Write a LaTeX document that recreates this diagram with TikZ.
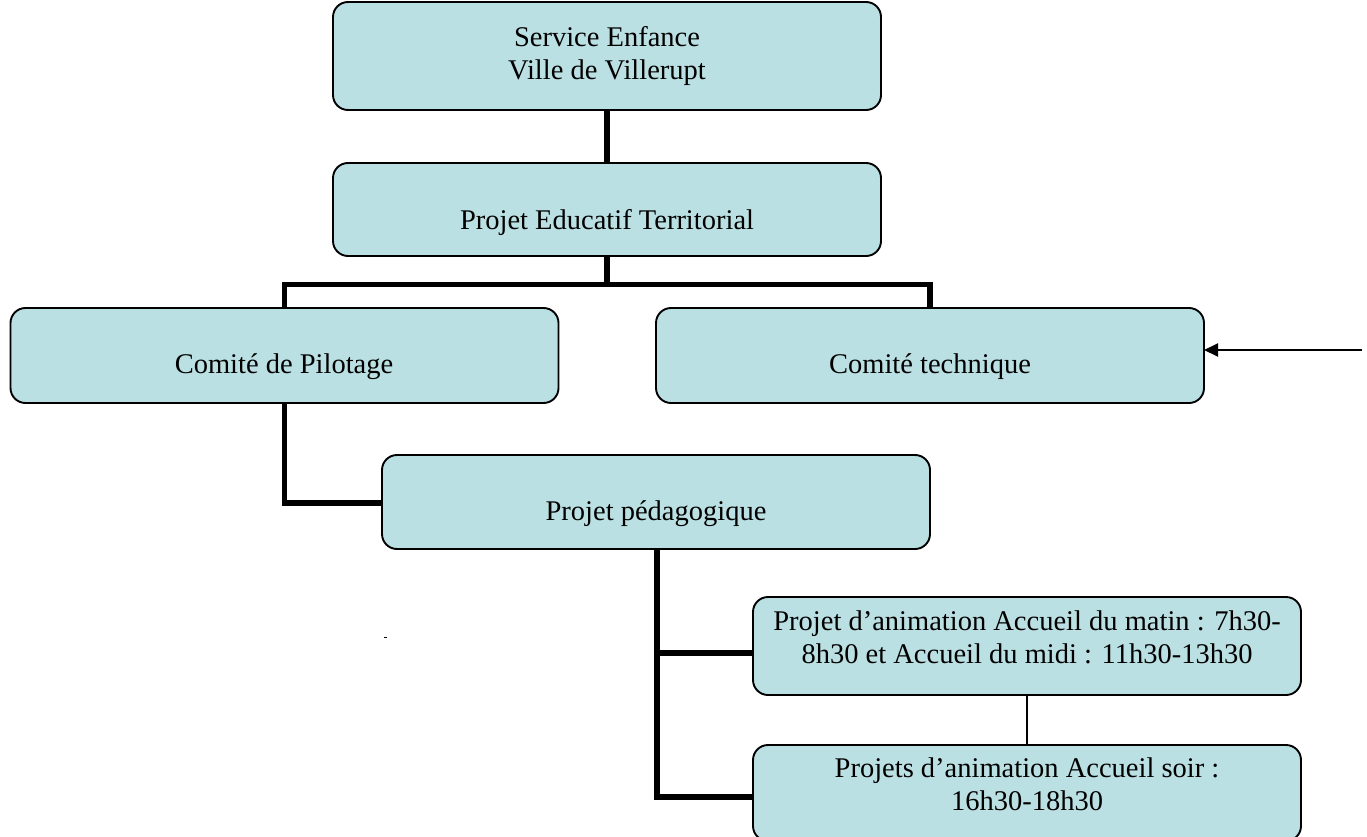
\documentclass[tikz,border=0pt]{standalone}
\usepackage{fontspec}
\setmainfont{Liberation Serif}
\usetikzlibrary{arrows.meta}
\definecolor{boxfill}{HTML}{BBE0E3}
\begin{document}
\begin{tikzpicture}[x=1pt,y=-1pt,
  box/.style={draw=black, line width=1.9pt, fill=boxfill, rounded corners=15pt,
    minimum width=548pt, inner sep=0pt, outer sep=0pt},
  txt/.style={font=\fontsize{28.5}{33}\selectfont, align=center, inner sep=0pt},
  conn/.style={line width=5.3pt},
  thinconn/.style={line width=1.5pt},
  arrowline/.style={line width=2pt, -{Triangle[length=14pt,width=13pt]}}]
\useasboundingbox (0,0) rectangle (1367,837);
\clip (0,0) rectangle (1367,837);
% boxes
\node[box, minimum height=108pt] (b1) at (607,56) {};
\node[box, minimum height=93pt] (b2) at (607,209.5) {};
\node[box, minimum height=95pt] (b3) at (284.5,355.5) {};
\node[box, minimum height=95pt] (b4) at (930,355.5) {};
\node[box, minimum height=94pt] (b5) at (656,502) {};
\node[box, minimum height=98pt] (b6) at (1027,646) {};
\node[box, minimum height=96pt] (b7) at (1027,793) {};
% texts
\node[txt] (t1) at (607,56) {Service Enfance\\Ville de Villerupt};
\node[txt] (t2) at (607,222) {Projet Educatif Territorial};
\node[txt] (t3) at (284,367) {Comité de Pilotage};
\node[txt] (t4) at (930,367) {Comité technique};
\node[txt] (t5) at (656,514) {Projet pédagogique};
\node[txt] (t6) at (1027,637) {Projet d’animation Accueil du matin : 7h30-\\8h30 et Accueil du midi : 11h30-13h30};
\node[txt] (t7) at (1027,784) {Projets d’animation Accueil soir :\\16h30-18h30};
% connectors
\draw[conn] (b1.south) -- (b2.north);
\coordinate (split) at (607,284.5);
\draw[conn] (b2.south) -- (split);
\draw[conn] (split) -| (b3.north);
\draw[conn] (split) -| (b4.north);
\coordinate (pilbend) at (284.5,503);
\draw[conn] (b3.south -| pilbend) -- (pilbend) -- (b5.west |- pilbend);
\coordinate (pedtop) at (657,549);
\coordinate (pedmid) at (657,653);
\coordinate (pedbot) at (657,797);
\draw[conn] (pedtop) -- (pedbot) -- (b7.west |- pedbot);
\draw[conn] (pedmid) -- (b6.west |- pedmid);
\draw[thinconn] (b6.south) -- (b7.north);
\coordinate (arrstart) at (1362,350);
\draw[arrowline] (arrstart) -- (b4.east |- arrstart);
% small mark
\fill (383.5,636.5) rectangle (386.5,638);
\end{tikzpicture}
\end{document}
